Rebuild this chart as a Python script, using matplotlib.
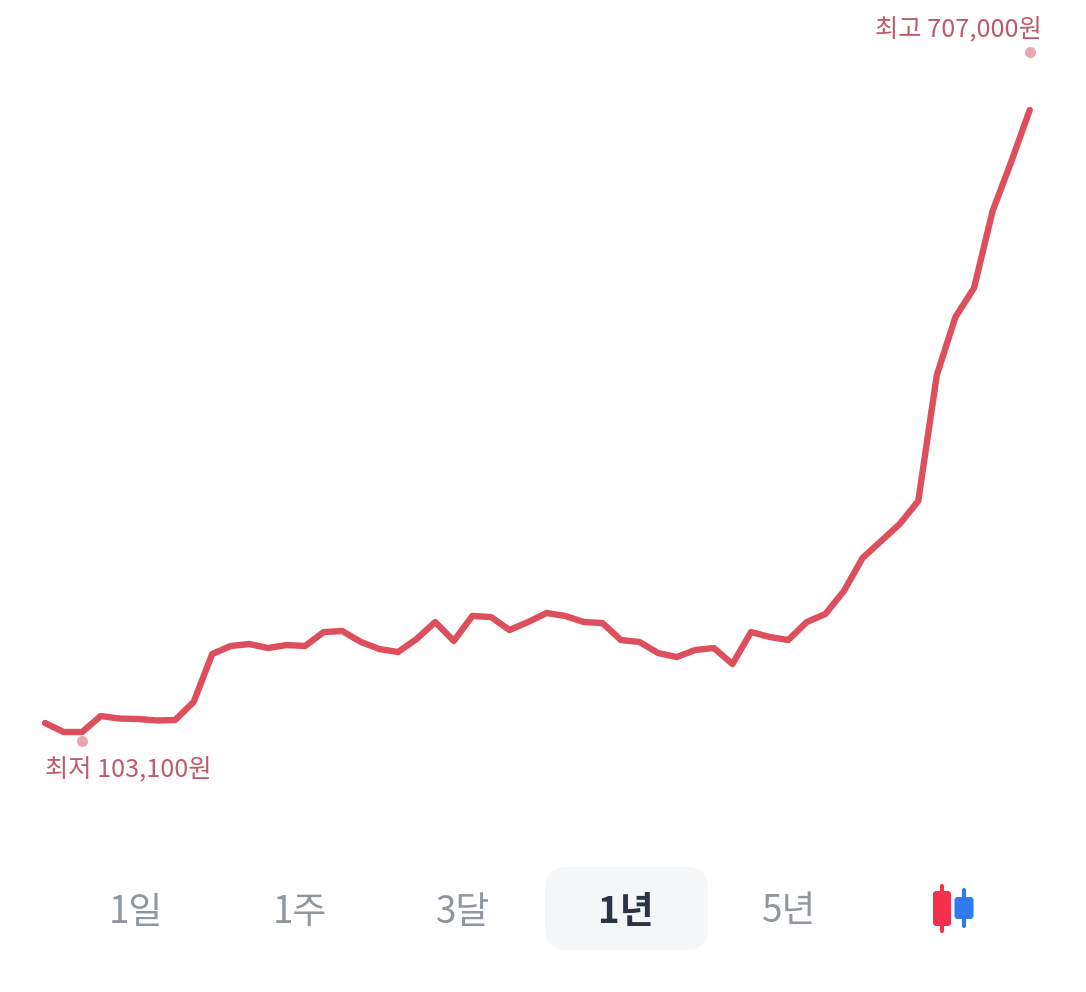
# -*- coding: utf-8 -*-
"""1년 주가 차트 (주간 종가) + 하단 기간 선택 탭"""

import matplotlib
matplotlib.use("Agg")
import matplotlib.pyplot as plt
from matplotlib.patches import FancyBboxPatch

# ====== 데이터 ======
PRICES = [
    118900, 111000, 111000, 125000, 122800, 122400, 121100, 121500, 137300,
    179400, 186400, 188100, 184600, 187200, 186400, 198600, 199500, 189900,
    183700, 181100, 192500, 207400, 190800, 212700, 211800, 200400, 207400,
    215300, 212700, 207400, 206500, 191600, 189900, 180200, 176700, 182900,
    184600, 170600, 198600, 194300, 191600, 207400, 214400, 234600, 263500,
    278400, 293300, 313500, 423900, 474700, 500100, 567600, 610600, 656200,
]
LOW_INDEX = 2
LOW_PRICE = 103100
HIGH_INDEX = 53
HIGH_PRICE = 707000
LOW_LABEL = "최저 103,100원"
HIGH_LABEL = "최고 707,000원"
TABS = ["1일", "1주", "3달", "1년", "5년"]
ACTIVE_TAB = "1년"

# ====== 스타일 ======
W, H = 1086, 992
LINE_COLOR = "#DE4F5D"
DOT_COLOR = "#EBA7AF"
LABEL_COLOR = "#BF5A6C"
TAB_COLOR = "#8F969E"
TAB_ACTIVE_COLOR = "#2B3440"
TAB_BG = "#F5F6F8"
CANDLE_RED = "#F5304F"
CANDLE_BLUE = "#2F7BEE"

plt.rcParams["font.family"] = ["Noto Sans CJK KR", "DejaVu Sans"]


def draw_candle(ax, cx, body_top, body_bottom, wick_top, wick_bottom, width, color):
    """아이콘용 캔들 하나."""
    ax.plot([cx, cx], [wick_top, wick_bottom], color=color, linewidth=3.0,
            solid_capstyle="round")
    ax.add_patch(FancyBboxPatch((cx - width / 2, body_top), width, body_bottom - body_top,
                                boxstyle="round,pad=0,rounding_size=3",
                                facecolor=color, edgecolor="none"))


fig = plt.figure(figsize=(W / 100, H / 100), dpi=100, facecolor="white")

# 차트 영역: 전체 그림을 채우고 가격 축은 숨김
ax = fig.add_axes([0, 0, 1, 1])
ax.set_xlim(-45 / 18.58, (W - 45) / 18.58)
ax.set_ylim(-116900, 752600)
ax.axis("off")

ax.plot(range(len(PRICES)), PRICES, color=LINE_COLOR, linewidth=4.6,
        solid_joinstyle="round", solid_capstyle="round", zorder=3)
ax.scatter([LOW_INDEX, HIGH_INDEX], [LOW_PRICE, HIGH_PRICE], s=64,
           color=DOT_COLOR, linewidths=0, zorder=2)

# UI 요소는 픽셀 좌표 오버레이에 그림
ui = fig.add_axes([0, 0, 1, 1])
ui.set_xlim(0, W)
ui.set_ylim(H, 0)
ui.axis("off")
ui.patch.set_alpha(0)

ui.text(45, 769, LOW_LABEL, color=LABEL_COLOR, fontsize=18.2,
        ha="left", va="center")
ui.text(1042, 29, HIGH_LABEL, color=LABEL_COLOR, fontsize=18.2,
        ha="right", va="center")

ui.add_patch(FancyBboxPatch((545, 867), 163, 83,
                            boxstyle="round,pad=0,rounding_size=22",
                            facecolor=TAB_BG, edgecolor="none"))

for label, cx in zip(TABS, [136, 300, 463, 626, 789]):
    active = label == ACTIVE_TAB
    ui.text(cx, 912, label, fontsize=26.5, ha="center", va="center",
            color=TAB_ACTIVE_COLOR if active else TAB_COLOR,
            fontweight="bold" if active else "normal")

# 캔들 아이콘
draw_candle(ui, 942, 891, 926, 886, 931, 18, CANDLE_RED)
draw_candle(ui, 964, 897, 919, 890, 926, 19, CANDLE_BLUE)

fig.savefig("out.png", dpi=100, facecolor="white")
